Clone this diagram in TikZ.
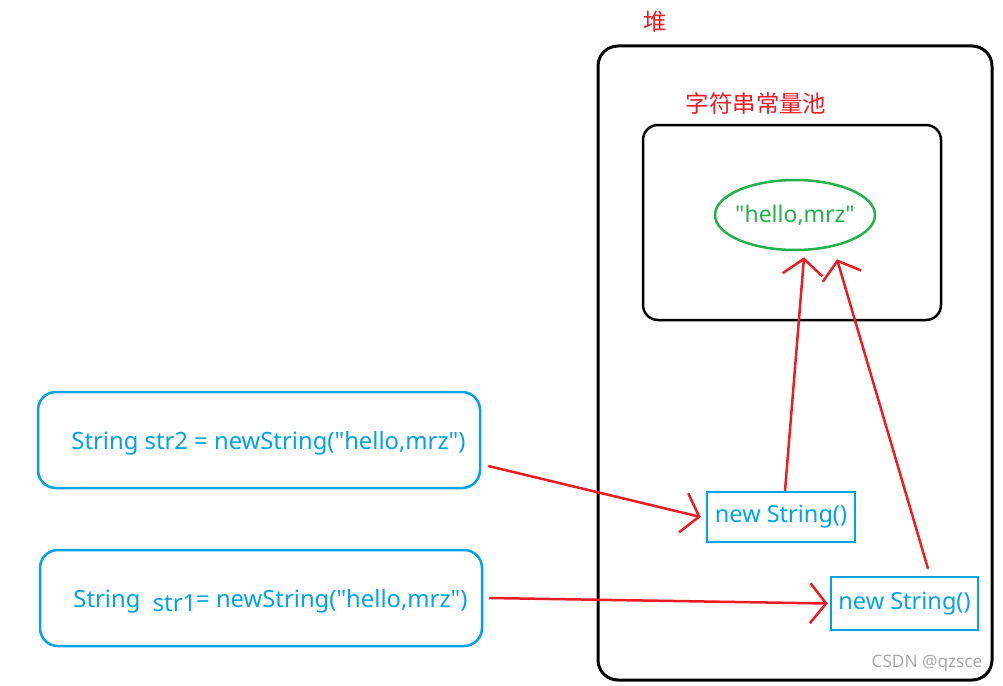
\documentclass[tikz,border=0pt]{standalone}
\usepackage{fontspec}
\setmainfont{Noto Sans}[Ligatures=TeXOff]
\newfontfamily\cjk{Noto Sans CJK SC}
\usetikzlibrary{arrows.meta,shapes.geometric}
\definecolor{myred}{HTML}{ED1C24}
\definecolor{myblue}{HTML}{00A2E8}
\definecolor{mygreen}{HTML}{22B14C}
\definecolor{mygray}{HTML}{A8A8A8}
\newcommand\dq{\symbol{34}}
\tikzset{
  heapbox/.style={draw=black, line width=3pt, rounded corners=20pt, minimum width=394pt, minimum height=634pt, inner sep=0pt},
  poolbox/.style={draw=black, line width=2.5pt, rounded corners=15pt, minimum width=298pt, minimum height=195pt, inner sep=0pt},
  codebox/.style={draw=myblue, line width=2.5pt, rounded corners=18pt, minimum width=442pt, minimum height=96pt, inner sep=0pt, text=myblue, font=\fontsize{23.8pt}{28pt}\selectfont},
  objbox/.style={draw=myblue, line width=2.5pt, inner sep=0pt, text=myblue, font=\fontsize{23.5pt}{28pt}\selectfont},
  lit/.style={draw=mygreen, line width=2.5pt, ellipse, minimum width=160pt, minimum height=70pt, inner sep=0pt},
  littext/.style={text=mygreen, font=\fontsize{23pt}{28pt}\selectfont, inner sep=0pt},
  redlabel/.style={text=myred, font=\cjk\fontsize{23.4pt}{28pt}\selectfont, inner sep=0pt},
  arr/.style={draw=myred, line width=2.5pt, -{Straight Barb[length=16pt,width=40pt,line width=2.5pt]}},
}
\begin{document}
\begin{tikzpicture}[x=1pt,y=-1pt]
\useasboundingbox (0,0) rectangle (1003,685);
\node[heapbox] (heap) at (795,363) {};
\node[redlabel] (heaplbl) at (655,22) {堆};
\node[poolbox] (pool) at (792,222.5) {};
\node[redlabel] (poollbl) at (756,104) {字符串常量池};
\node[lit] (str) at (795,215) {};
\node[littext] (strtext) at (str.center) {\dq hello,mrz\dq};
\node[codebox] (s2) at (259,440) {\hspace*{19pt}\raisebox{-3pt}[\height][\depth]{String str2 = newString(\dq hello,mrz\dq)}};
\node[codebox] (s1) at (261,598) {\hspace*{19pt}\raisebox{-3pt}[\height][\depth]{String\ \ \raisebox{-4pt}{str1}= newString(\dq hello,mrz\dq)}};
\node[objbox, minimum width=148pt, minimum height=50pt] (nb1) at (781,517) {new String()};
\node[objbox, minimum width=147pt, minimum height=53pt] (nb2) at (904.5,603.5) {new String()};
\node[text=mygray, font=\fontsize{17.2pt}{20pt}\selectfont, inner sep=0pt] (wm) at (927,663) {CSDN @qzsce};
\draw[arr] ([shift={(7,26)}]s2.east) -- ([xshift=-5]nb1.west);
\draw[arr] ([xshift=6]s1.east) -- ([xshift=-2]nb2.west);
\draw[arr] ([xshift=4]nb1.north) -- ([shift={(9,6)}]str.south);
\draw[arr] ([shift={(23.5,-7)}]nb2.north) -- ([shift={(42,8)}]str.south);
\end{tikzpicture}
\end{document}
